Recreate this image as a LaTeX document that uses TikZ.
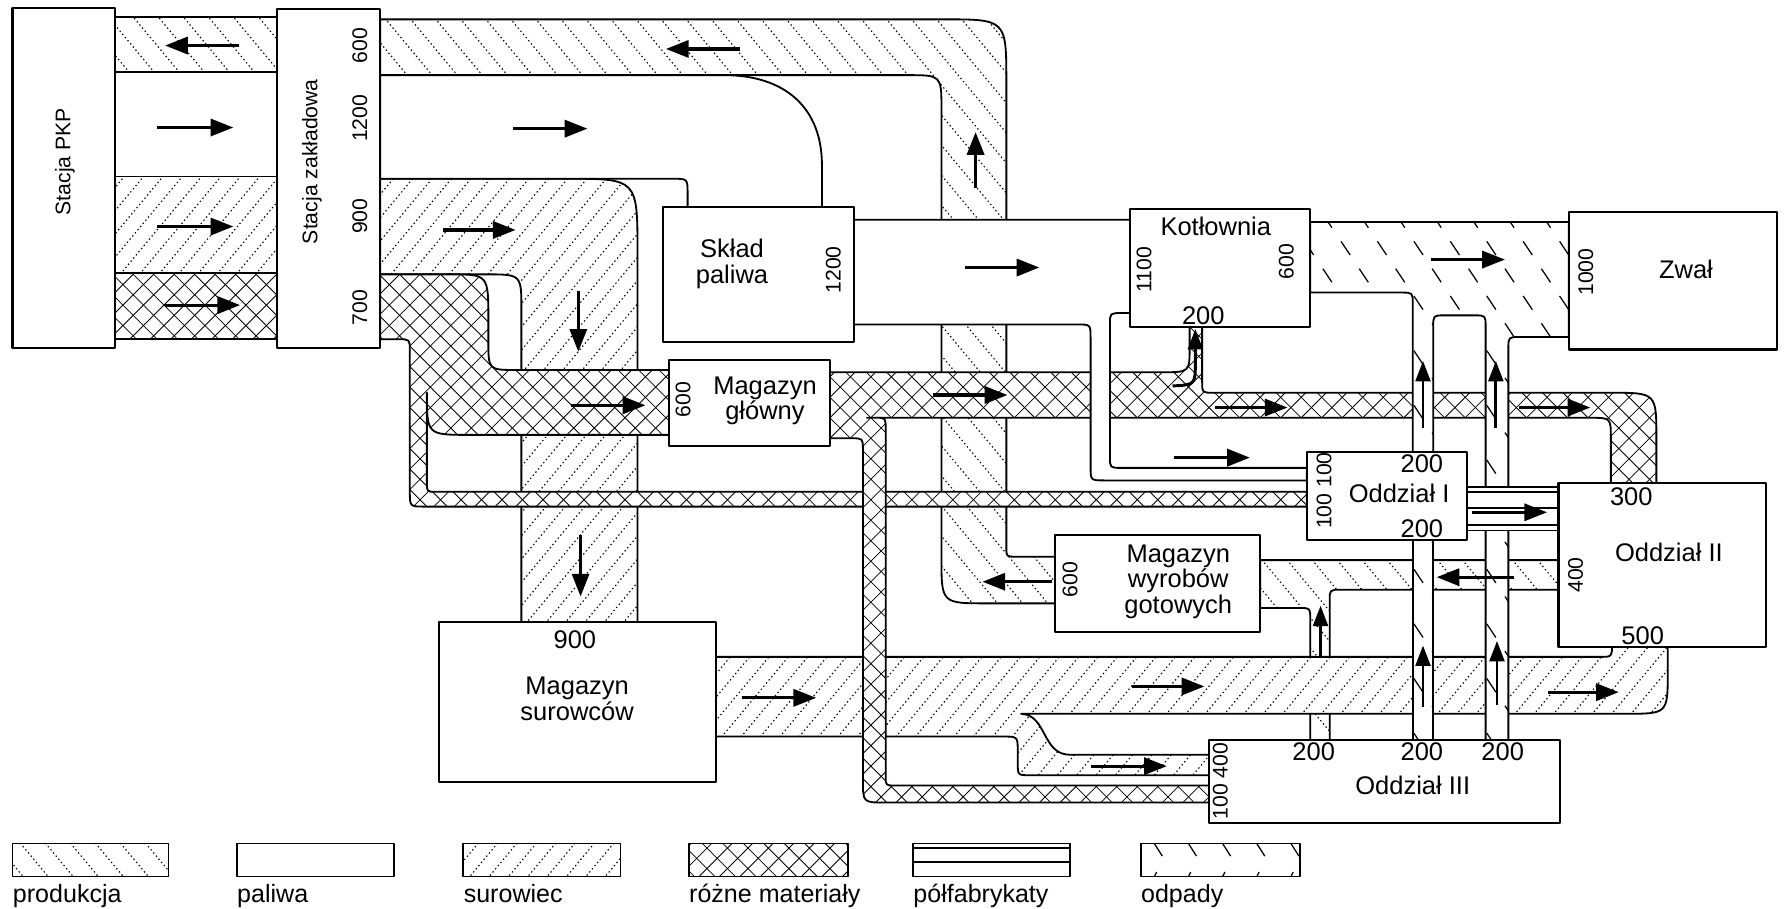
\documentclass[tikz,border=0pt]{standalone}
\usepackage{fontspec}
\setmainfont{Liberation Sans}
\usetikzlibrary{arrows.meta}
\newcommand\PatProd[1]{\begin{scope}\clip #1;\foreach \k in {-35,...,75}{\draw[pdot] ({\k*22},-20) -- ++(700,840);}\end{scope}}
\newcommand\PatSur[1]{\begin{scope}\clip #1;\foreach \k in {0,...,136}{\draw[pdot] ({\k*17},-20) -- ++(-700,840);}\end{scope}}
\newcommand\PatRoz[1]{\begin{scope}\clip #1;\foreach \k in {-48,...,90}{\draw[hx] ({\k*18},-20) -- ++(840,840);}\foreach \k in {0,...,135}{\draw[hx] ({\k*18},-20) -- ++(-840,840);}\end{scope}}
\newcommand\PatOdp[1]{\begin{scope}\clip #1;\foreach \j in {0,...,21}{\foreach \i in {0,...,14}{\draw[omark] ({1130+\i*32+mod(\j,2)*16},{188+\j*24}) -- ++(8,12);}}\end{scope}}
\begin{document}
\begin{tikzpicture}[x=0.5pt,y=-0.5pt,line join=round,
  edge/.style={line width=0.8pt},
  box/.style={draw,line width=0.9pt,fill=white},
  arr/.style={line width=1.4pt,-{Triangle[length=10pt,width=7.5pt]}},
  uarr/.style={line width=1.3pt,-{Triangle[length=9pt,width=6.5pt]}},
  pdot/.style={line width=0.5pt,dash pattern=on 0.6pt off 1.2pt},
  hx/.style={line width=0.35pt},
  omark/.style={line width=0.55pt},
  txt/.style={font=\fontsize{11.2}{11.2}\selectfont,align=center,inner sep=0pt},
  rtxt/.style={font=\fontsize{9.3}{11}\selectfont,rotate=90,inner sep=0pt},
  ltxt/.style={font=\fontsize{11}{13}\selectfont,anchor=base west,inner sep=0pt}]
\useasboundingbox (0,0) rectangle (1568,798);
\fill[white] (0,0) rectangle (1568,798);
% ---- bands between Stacja PKP and Stacja zakladowa
\def\RPa{(101,15) rectangle (243,63)}
\PatProd{\RPa}
\def\RPc{(101,155) rectangle (243,240)}
\PatSur{\RPc}
\def\RPd{(101,240) rectangle (243,298)}
\PatRoz{\RPd}
\foreach \y in {15,63,155,240,298} \draw[edge] (101,\y) -- (243,\y);
% ---- A: produkcja (Magazyn wyrobow -> Stacja)
\def\RA{(334,17) -- (829,17) .. controls (884,17) .. (884,72) -- (884,481) .. controls (884,489) .. (892,489) -- (927,489) -- (927,530) -- (867,530) .. controls (827,530) .. (827,490) -- (827,96) .. controls (827,66) .. (797,66) -- (334,66) -- cycle}
\fill[white] \RA; \PatProd{\RA} \draw[edge] \RA;
% ---- B: surowiec (Stacja -> Magazyn surowcow)
\def\RB{(334,157) -- (498,157) .. controls (560,157) .. (560,222) -- (560,547) -- (458,547) -- (458,272) .. controls (458,241) .. (427,241) -- (334,241) -- cycle}
\fill[white] \RB; \PatSur{\RB} \draw[edge] \RB;
% ---- C: paliwa (Stacja -> Sklad)
\def\RC{(334,66) -- (636,66) .. controls (690,66) and (722,95) .. (722,145) -- (722,182) -- (604,182) -- (604,170) .. controls (604,157) .. (591,157) -- (334,157) -- cycle}
\fill[white] \RC; \draw[edge] \RC;
% ---- E: rozne (Stacja -> Magazyn glowny, Oddzial I)
\def\RE{(334,241) -- (395,241) .. controls (429,241) .. (429,281) -- (429,300) .. controls (429,325) .. (454,325) -- (588,325) -- (588,382) -- (412,382) .. controls (375,382) .. (375,345) -- (375,424) .. controls (375,432) .. (383,432) -- (1148,432) -- (1148,445) -- (373,445) .. controls (360,445) .. (360,432) -- (360,308) .. controls (360,298) .. (350,298) -- (334,298) -- cycle}
\fill[white] \RE; \PatRoz{\RE} \draw[edge] \RE;
% ---- F: rozne (Magazyn glowny -> Kotlownia, Oddzial II)
\def\RF{(728,327) -- (1020,327) .. controls (1045,327) .. (1045,305) -- (1045,287) -- (1056,287) -- (1056,336) .. controls (1056,345) .. (1066,345) -- (1415,345) .. controls (1455,345) .. (1455,385) -- (1455,424) -- (1415,424) -- (1415,385) .. controls (1415,367) .. (1397,367) -- (728,367) -- cycle}
\fill[white] \RF; \PatRoz{\RF}
\draw[edge] (728,327) -- (1020,327) .. controls (1045,327) .. (1045,305) -- (1045,287);
\draw[edge] (1056,287) -- (1056,336) .. controls (1056,345) .. (1066,345) -- (1415,345) .. controls (1455,345) .. (1455,385) -- (1455,424);
\draw[edge] (770,367) -- (1397,367) .. controls (1415,367) .. (1415,385) -- (1415,424);
% ---- D: paliwa (Sklad -> Kotlownia, Oddzial I)
\def\RD{(750,193) -- (993,193) -- (993,275) -- (985,275) .. controls (975,275) .. (975,285) -- (975,401) .. controls (975,411) .. (985,411) -- (1148,411) -- (1148,422) -- (970,422) .. controls (958,422) .. (958,410) -- (958,297) .. controls (958,285) .. (946,285) -- (750,285) -- cycle}
\fill[white] \RD; \draw[edge] \RD;
% ---- I: produkcja (Oddzial II, Oddzial III -> Magazyn wyrobow)
\def\RI{(1107,492) -- (1369,492) -- (1369,518) -- (1178,518) .. controls (1168,518) .. (1168,528) -- (1168,650) -- (1151,650) -- (1151,545) .. controls (1151,534) .. (1140,534) -- (1107,534) -- cycle}
\fill[white] \RI; \PatProd{\RI} \draw[edge] \RI;
% ---- H: surowiec (Magazyn surowcow -> Oddzial II, Oddzial III)
\def\RH{(629,577) -- (1405,577) .. controls (1416,577) .. (1416,567) -- (1465,567) -- (1465,590) .. controls (1465,627) .. (1428,627) -- (897,627) .. controls (920,628) and (915,663) .. (940,663) -- (1062,663) -- (1062,681) -- (905,681) .. controls (894,681) .. (894,670) -- (894,660) .. controls (894,647) .. (881,647) -- (629,647) -- cycle}
\fill[white] \RH; \PatSur{\RH} \draw[edge] \RH;
% ---- G: rozne (Magazyn glowny -> Oddzial III)
\def\RG{(728,367) -- (770,367) .. controls (778,367) .. (778,377) -- (778,682) .. controls (778,690) .. (786,690) -- (1062,690) -- (1062,705) -- (778,705) .. controls (758,705) .. (758,685) -- (758,395) .. controls (758,385) .. (748,385) -- (728,385) -- cycle}
\fill[white] \RG; \PatRoz{\RG}
\draw[edge] (761,367) -- (770,367) .. controls (778,367) .. (778,377) -- (778,682) .. controls (778,690) .. (786,690) -- (1062,690);
\draw[edge] (728,385) -- (748,385) .. controls (758,385) .. (758,395) -- (758,685) .. controls (758,705) .. (778,705) -- (1062,705);
% ---- K: Oddzial III -> Oddzial I
\def\RK{(1241,474) rectangle (1259,650)}
\fill[white] \RK; \PatOdp{\RK} \draw[edge] (1241,474) -- (1241,650) (1259,474) -- (1259,650);
% ---- J: odpady (-> Zwal)
\def\RJ{(1151,195) -- (1378,195) -- (1378,296) -- (1335,296) .. controls (1325,296) .. (1325,306) -- (1325,650) -- (1305,650) -- (1305,287) .. controls (1305,277) .. (1295,277) -- (1269,277) .. controls (1259,277) .. (1259,287) -- (1259,397) -- (1241,397) -- (1241,267) .. controls (1241,257) .. (1231,257) -- (1151,257) -- cycle}
\fill[white] \RJ; \PatOdp{\RJ} \draw[edge] \RJ;
% ---- L: polfabrykaty (Oddzial I -> Oddzial II)
\fill[white] (1289,428) rectangle (1369,466);
\foreach \y in {428,432.5,446,461.5,466} \draw[edge] (1289,\y) -- (1369,\y);
% ---- boxes
\draw[box] (11,7) rectangle (101,306);
\draw[box] (243,8) rectangle (334,306);
\draw[box] (582,182) rectangle (750,300);
\draw[box] (588,316) rectangle (729,392);
\draw[box] (993,184) rectangle (1151,287);
\draw[box] (1378,186) rectangle (1561,307);
\draw[box] (1148,397) rectangle (1289,474);
\draw[box] (1369,424) rectangle (1551,568);
\draw[box] (927,470) rectangle (1107,555);
\draw[box] (386,546) rectangle (629,687);
\draw[box] (1062,650) rectangle (1370,723);
% ---- texts
\node[rtxt] (pkp) at (57,142) {Stacja PKP};
\node[rtxt] (stz) at (274,142) {Stacja zakładowa};
\node[rtxt] (stz1) at (316,40) {600};
\node[rtxt] (stz2) at (316,104) {1200};
\node[rtxt] (stz3) at (316,190) {900};
\node[rtxt] (stz4) at (316,270) {700};
\node[txt] (sklad) at (643,232) {Skład\\paliwa};
\node[rtxt] (sklad1) at (732,237) {1200};
\node[txt] (mgl) at (672,352) {Magazyn\\główny};
\node[rtxt] (mgl1) at (600,351) {600};
\node[txt] (kot) at (1068,199) {Kotłownia};
\node[rtxt] (kot1) at (1005,237) {1100};
\node[rtxt] (kot2) at (1130,230) {600};
\node[txt] (kot3) at (1057,277) {200};
\node[txt] (zwal) at (1481,237) {Zwał};
\node[rtxt] (zwal1) at (1393,239) {1000};
\node[txt] (o1) at (1229,433) {Oddział I};
\node[txt] (o1a) at (1249,407) {200};
\node[txt] (o1b) at (1249,464) {200};
\node[rtxt] (o1c) at (1163,431) {100 100};
\node[txt] (o2) at (1466,485) {Oddział II};
\node[txt] (o2a) at (1433,436) {300};
\node[txt] (o2b) at (1443,558) {500};
\node[rtxt] (o2c) at (1384,505) {400};
\node[txt] (mwg) at (1035,511) {Magazyn\\wyrobów\\gotowych};
\node[rtxt] (mwg1) at (940,509) {600};
\node[txt] (msur) at (507,614) {Magazyn\\surowców};
\node[txt] (msur1) at (505,562) {900};
\node[txt] (o3) at (1241,690) {Oddział III};
\node[txt] (o3a) at (1154,660) {200};
\node[txt] (o3b) at (1249,660) {200};
\node[txt] (o3c) at (1320,660) {200};
\node[rtxt] (o3d) at (1072,686) {100 400};
% ---- arrows
\draw[arr] (210,40) -- (145,40);
\draw[arr] (138,112) -- (205,112);
\draw[arr] (138,199) -- (205,199);
\draw[arr] (145,268) -- (211,268);
\draw[arr] (650,43) -- (585,43);
\draw[arr] (451,113) -- (516,113);
\draw[arr] (389,202) -- (453,202);
\draw[arr] (508,256) -- (508,309);
\draw[arr] (502,356) -- (567,356);
\draw[arr] (857,165) -- (857,116);
\draw[arr] (848,235) -- (913,235);
\draw[arr] (820,347) -- (885,347);
\draw[arr] (1067,358) -- (1131,358);
\draw[arr] (1334,358) -- (1397,358);
\draw[arr] (1257,228) -- (1322,228);
\draw[arr] (1031,402) -- (1098,402);
\draw[arr] (1293,450) -- (1359,450);
\draw[arr] (1330,507) -- (1262,507);
\draw[arr] (924,511) -- (863,511);
\draw[arr] (510,470) -- (510,524);
\draw[arr] (652,613) -- (717,613);
\draw[arr] (994,603) -- (1058,603);
\draw[arr] (1360,608) -- (1422,608);
\draw[arr] (958,673) -- (1025,673);
\draw[uarr] (1030,339) .. controls (1050,338) .. (1050,318) -- (1050,289);
\draw[uarr] (1250,376) -- (1250,317);
\draw[uarr] (1314,376) -- (1314,317);
\draw[uarr] (1160,578) -- (1160,532);
\draw[uarr] (1250,621) -- (1250,567);
\draw[uarr] (1315,619) -- (1315,563);
% ---- legend
\def\LA{(11,741) rectangle (148,770)}
\PatProd{\LA} \draw[edge] \LA;
\draw[edge] (208,741) rectangle (346,770);
\def\LC{(407,741) rectangle (545,770)}
\PatSur{\LC} \draw[edge] \LC;
\def\LD{(605,741) rectangle (745,770)}
\PatRoz{\LD} \draw[edge] \LD;
\draw[edge] (802,741) rectangle (940,770);
\draw[edge] (802,745) -- (940,745) (802,757) -- (940,757);
\draw[edge] (1002,741) rectangle (1142,770);
\foreach \x in {1014,1044,1074,1104,1134} \draw[omark] (\x,741) -- ++(7,11);
\foreach \x in {1014,1044,1074,1104,1134} \draw[omark] (\x,770) -- ++(2,-4);
\node[ltxt] (lg1) at (11,793) {produkcja};
\node[ltxt] (lg2) at (208,793) {paliwa};
\node[ltxt] (lg3) at (407,793) {surowiec};
\node[ltxt] (lg4) at (605,793) {różne materiały};
\node[ltxt] (lg5) at (802,793) {półfabrykaty};
\node[ltxt] (lg6) at (1002,793) {odpady};
\end{tikzpicture}
\end{document}
